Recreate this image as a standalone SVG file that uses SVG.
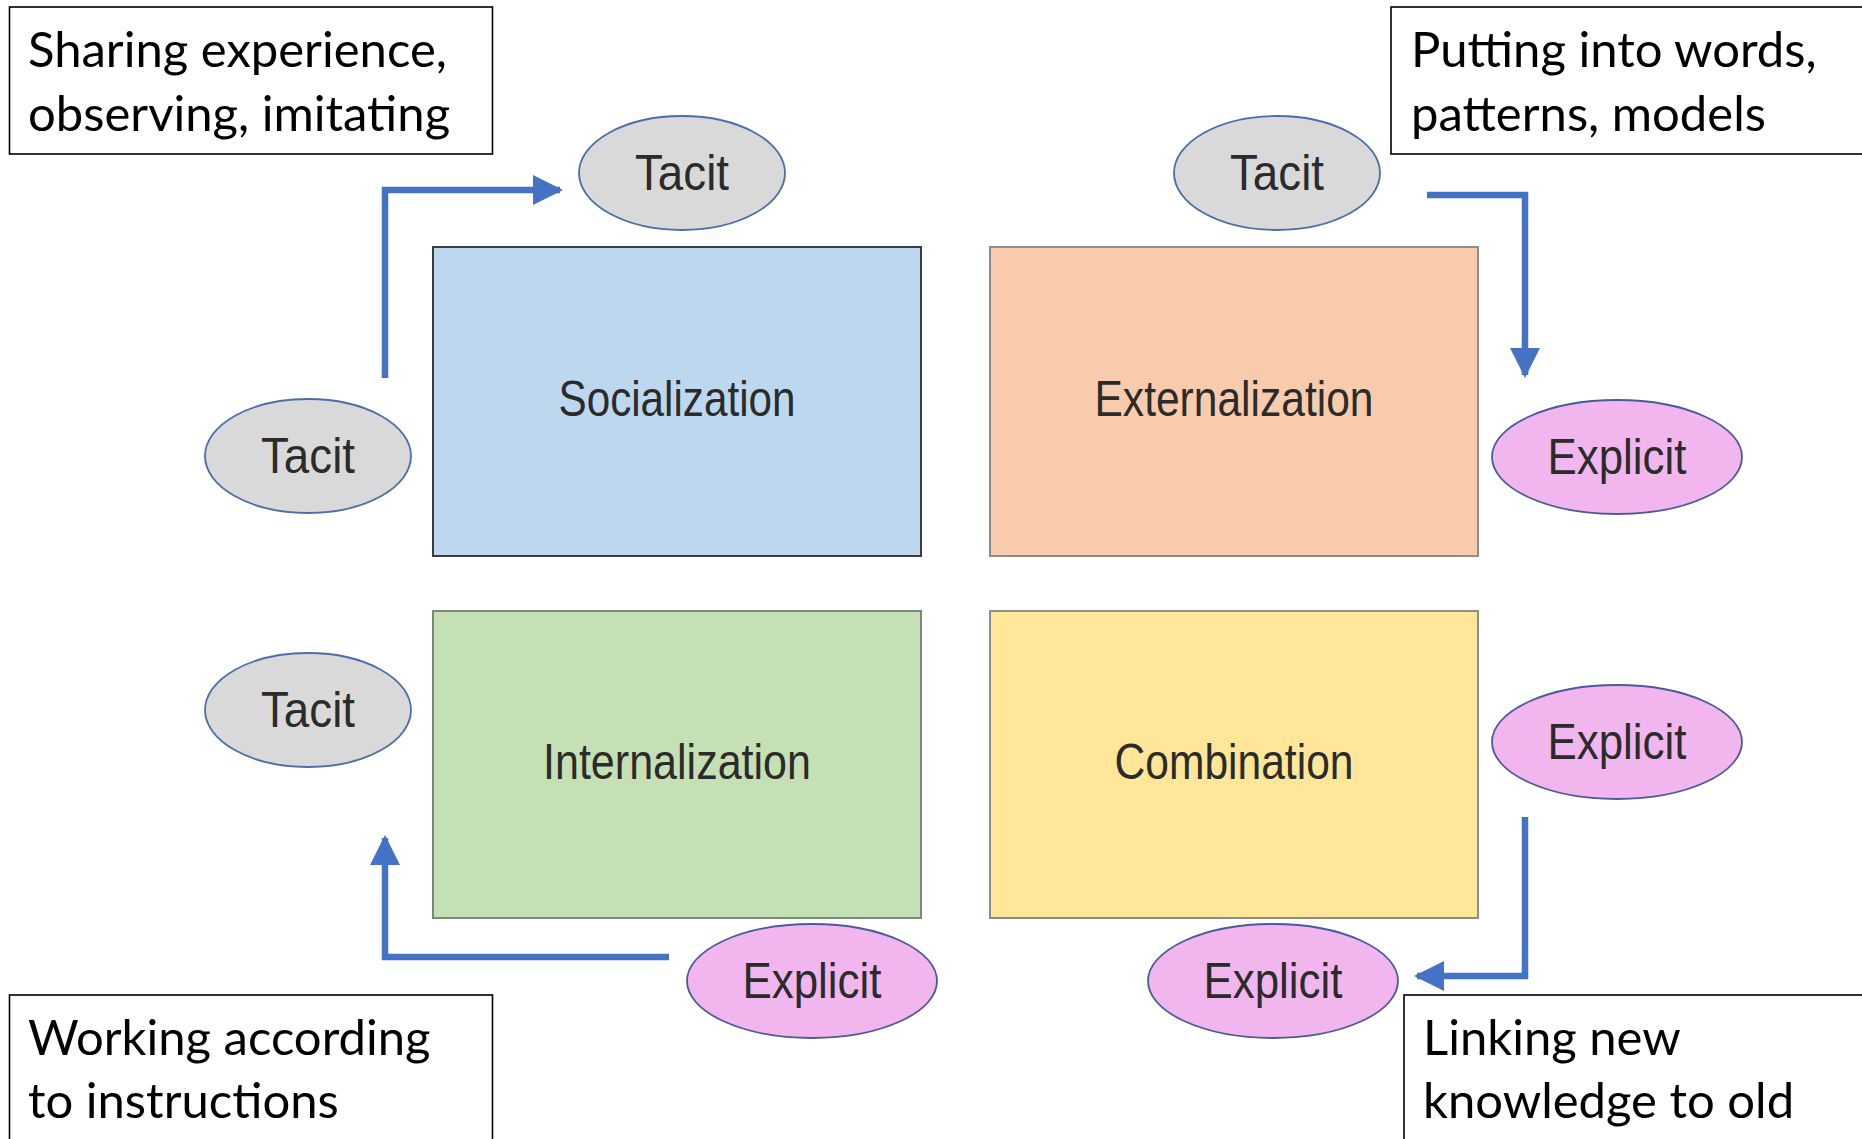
<svg xmlns="http://www.w3.org/2000/svg" width="1862" height="1139" viewBox="0 0 1862 1139">
  <defs>
    <style>
      .note { fill: #ffffff; stroke: #000000; stroke-width: 1.6; }
      .note-text { font-family: "Lato", "Liberation Sans", sans-serif; font-size: 49px; fill: #000000; }
      .quad { stroke-width: 2; }
      .quad-text { font-family: "Liberation Sans", "Noto Sans", sans-serif; font-size: 50px; fill: #2b2b2b; text-anchor: middle; }
      .tacit { fill: #d9d9d9; stroke: #4b6ea8; stroke-width: 1.8; }
      .explicit { fill: #f2b6ee; stroke: #4b5a9a; stroke-width: 1.8; }
      .oval-text { font-family: "Liberation Sans", "Noto Sans", sans-serif; font-size: 50px; fill: #2b2b2b; text-anchor: middle; }
      .flow { fill: none; stroke: #4472c4; stroke-width: 6.5; stroke-linejoin: miter; marker-end: url(#head); }
    </style>
    <marker id="head" markerUnits="userSpaceOnUse" markerWidth="32" markerHeight="32" refX="27" refY="15" orient="auto">
      <polygon points="0,0 30,15 0,30" fill="#4472c4"/>
    </marker>
  </defs>

  <rect width="1862" height="1139" fill="#ffffff"/>

  <!-- explanatory notes in the corners -->
  <g id="note-socialization">
    <rect class="note" x="9.5" y="7" width="483" height="147"/>
    <text class="note-text" x="28" y="67">Sharing experience,</text>
    <text class="note-text" x="28" y="131">observing, imitating</text>
  </g>
  <g id="note-externalization">
    <rect class="note" x="1391" y="7" width="480" height="147"/>
    <text class="note-text" x="1411" y="67">Putting into words,</text>
    <text class="note-text" x="1411" y="131">patterns, models</text>
  </g>
  <g id="note-internalization">
    <rect class="note" x="9.5" y="995" width="483" height="160"/>
    <text class="note-text" x="28" y="1055">Working according</text>
    <text class="note-text" x="28" y="1118">to instructions</text>
  </g>
  <g id="note-combination">
    <rect class="note" x="1404" y="995" width="470" height="160"/>
    <text class="note-text" x="1423" y="1055">Linking new</text>
    <text class="note-text" x="1423" y="1118">knowledge to old</text>
  </g>

  <!-- the four SECI quadrants (labels set in a condensed width) -->
  <g id="socialization">
    <rect class="quad" x="433" y="247" width="488" height="309" fill="#bdd7ee" stroke="#3c3c3c"/>
    <text class="quad-text" x="677" y="416" textLength="237" lengthAdjust="spacingAndGlyphs">Socialization</text>
  </g>
  <g id="externalization">
    <rect class="quad" x="990" y="247" width="488" height="309" fill="#f8cbad" stroke="#8c8c8c"/>
    <text class="quad-text" x="1234" y="416" textLength="279" lengthAdjust="spacingAndGlyphs">Externalization</text>
  </g>
  <g id="internalization">
    <rect class="quad" x="433" y="611" width="488" height="307" fill="#c5e0b4" stroke="#7a8a7a"/>
    <text class="quad-text" x="677" y="779" textLength="268" lengthAdjust="spacingAndGlyphs">Internalization</text>
  </g>
  <g id="combination">
    <rect class="quad" x="990" y="611" width="488" height="307" fill="#ffe699" stroke="#8c8c8c"/>
    <text class="quad-text" x="1234" y="779" textLength="239" lengthAdjust="spacingAndGlyphs">Combination</text>
  </g>

  <!-- knowledge-type ovals -->
  <g id="tacit-top-left">
    <ellipse class="tacit" cx="682" cy="173" rx="103" ry="57"/>
    <text class="oval-text" x="682" y="190" textLength="94" lengthAdjust="spacingAndGlyphs">Tacit</text>
  </g>
  <g id="tacit-top-right">
    <ellipse class="tacit" cx="1277" cy="173" rx="103" ry="57"/>
    <text class="oval-text" x="1277" y="190" textLength="94" lengthAdjust="spacingAndGlyphs">Tacit</text>
  </g>
  <g id="tacit-left-upper">
    <ellipse class="tacit" cx="308" cy="456" rx="103" ry="57"/>
    <text class="oval-text" x="308" y="473" textLength="94" lengthAdjust="spacingAndGlyphs">Tacit</text>
  </g>
  <g id="tacit-left-lower">
    <ellipse class="tacit" cx="308" cy="710" rx="103" ry="57"/>
    <text class="oval-text" x="308" y="727" textLength="94" lengthAdjust="spacingAndGlyphs">Tacit</text>
  </g>
  <g id="explicit-right-upper">
    <ellipse class="explicit" cx="1617" cy="457" rx="125" ry="57"/>
    <text class="oval-text" x="1617" y="474" textLength="139" lengthAdjust="spacingAndGlyphs">Explicit</text>
  </g>
  <g id="explicit-right-lower">
    <ellipse class="explicit" cx="1617" cy="742" rx="125" ry="57"/>
    <text class="oval-text" x="1617" y="759" textLength="139" lengthAdjust="spacingAndGlyphs">Explicit</text>
  </g>
  <g id="explicit-bottom-left">
    <ellipse class="explicit" cx="812" cy="981" rx="125" ry="57"/>
    <text class="oval-text" x="812" y="998" textLength="139" lengthAdjust="spacingAndGlyphs">Explicit</text>
  </g>
  <g id="explicit-bottom-right">
    <ellipse class="explicit" cx="1273" cy="981" rx="125" ry="57"/>
    <text class="oval-text" x="1273" y="998" textLength="139" lengthAdjust="spacingAndGlyphs">Explicit</text>
  </g>

  <!-- conversion arrows -->
  <g id="connectors">
    <path class="flow" d="M385,378 V190 H560"/>
    <path class="flow" d="M1427,195 H1525 V375"/>
    <path class="flow" d="M1525,817 V976 H1417"/>
    <path class="flow" d="M669,957 H385 V838"/>
  </g>
</svg>
